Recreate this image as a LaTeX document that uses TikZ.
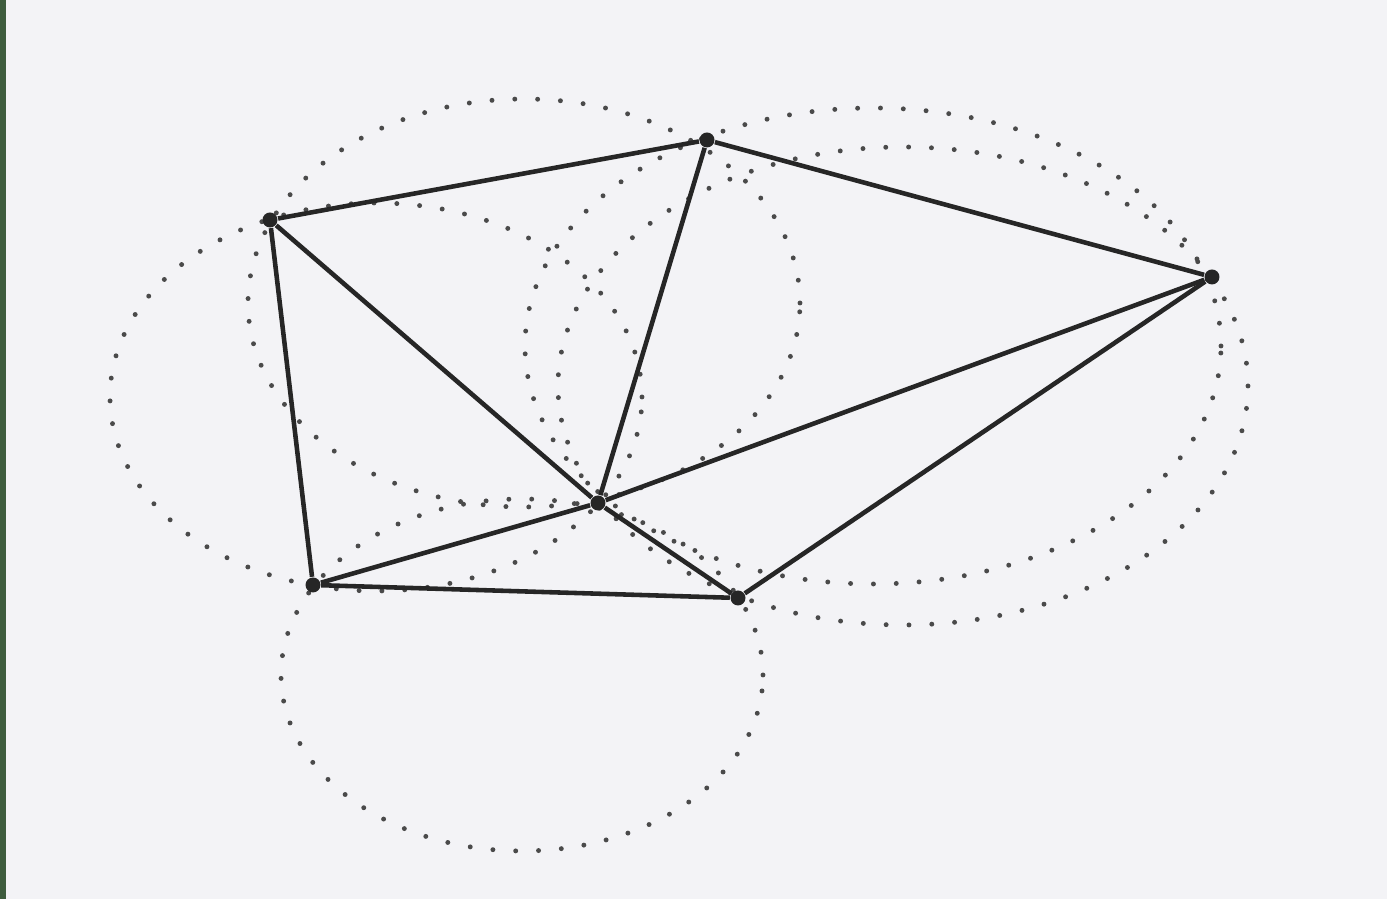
\documentclass[tikz,border=0pt]{standalone}
\usepackage{xcolor}
\usepackage{tikz}
\usetikzlibrary{calc}
\definecolor{kagit}{HTML}{F3F3F6}
\definecolor{serit}{HTML}{3E5C3E}
\definecolor{kenar}{HTML}{262626}
\definecolor{cember}{HTML}{4A4A4A}

\begin{document}
\begin{tikzpicture}[
  kose/.style={circle,fill=kenar,inner sep=0pt,minimum size=0.15cm},
  ayrit/.style={kenar,line width=1.3pt},
  noktali/.style={cember,line width=1.4pt,line cap=round,dash pattern=on 0pt off 6.5pt}]
\fill[kagit] (0,0) rectangle (13.87,8.99);
\useasboundingbox (0,0) rectangle (13.87,8.99);
\fill[serit] (0,0) rectangle (0.06,8.99);
% circumcircles (scan is stretched, so they come out as ellipses)
\draw[noktali] (3.76,5.02) ellipse [x radius=2.66,y radius=1.94];
\draw[noktali] (5.24,5.96) ellipse [x radius=2.76,y radius=2.04];
\draw[noktali] (8.73,5.53) ellipse [x radius=3.48,y radius=2.38];
\draw[noktali] (9.03,5.13) ellipse [x radius=3.45,y radius=2.39];
\draw[noktali] (5.22,2.24) ellipse [x radius=2.41,y radius=1.76];
% points
\node[kose] (A) at (2.70,6.79) {};
\node[kose] (B) at (7.07,7.59) {};
\node[kose] (C) at (12.12,6.22) {};
\node[kose] (D) at (5.98,3.96) {};
\node[kose] (E) at (3.13,3.14) {};
\node[kose] (F) at (7.38,3.01) {};
% triangulation
\draw[ayrit] (A)--(B) (B)--(C) (C)--(F) (F)--(E) (E)--(A);
\draw[ayrit] (D)--(A) (D)--(B) (D)--(C) (D)--(E) (D)--(F);
\end{tikzpicture}
\end{document}
